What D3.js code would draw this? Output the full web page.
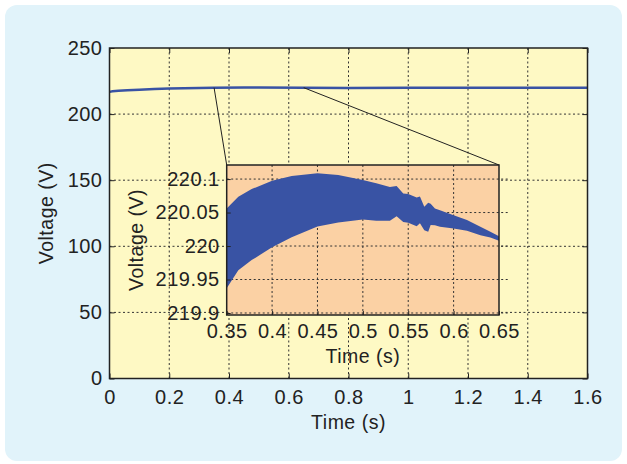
<!DOCTYPE html>
<html lang="en">
<head>
	<meta charset="utf-8">
	<title>Voltage with zoomed inset</title>
	<script src="https://cdn.jsdelivr.net/npm/d3@7"></script>
	<style>
		body { margin: 0; background: #fff; }
		text { font-family: "Liberation Sans", Arial, sans-serif; fill: #222; letter-spacing: 0.5px; }
	</style>
</head>
<body>
	<div id="chart"></div>
	<script>

		// main trace
		const mainTime    = [0, 0.01, 0.03, 0.06, 0.1, 0.15, 0.2, 0.3, 0.35, 0.45, 0.5, 0.65, 0.8, 1.0, 1.2, 1.4, 1.6];
		const mainVoltage = [216.8, 217.2, 217.6, 218.0, 218.5, 218.9, 219.3, 219.8, 219.95, 220.1, 220.05, 220.0, 219.8, 220.0, 220.0, 220.0, 220.0];

		// inset: envelope of the fast ripple between 0.35 s and 0.65 s
		const insetTime  = [0.35, 0.3628, 0.3775, 0.40, 0.4216, 0.45, 0.4729, 0.50, 0.5148, 0.5298, 0.5372, 0.5445, 0.55, 0.5593, 0.5629, 0.5677, 0.572, 0.5747, 0.5794, 0.585, 0.60, 0.6147, 0.6295, 0.6405, 0.65];
		const insetUpper = [220.056, 220.0735, 220.085, 220.0975, 220.1045, 220.1085, 220.106, 220.0985, 220.0936, 220.088, 220.0895, 220.0786, 220.0776, 220.0726, 220.074, 220.0586, 220.0646, 220.063, 220.056, 220.0536, 220.0461, 220.0387, 220.0287, 220.0212, 220.0147];
		const insetLower = [219.937, 219.964, 219.979, 219.998, 220.013, 220.029, 220.035, 220.0397, 220.0376, 220.0376, 220.0446, 220.036, 220.0346, 220.0297, 220.034, 220.0237, 220.0212, 220.0313, 220.0312, 220.0287, 220.0262, 220.0227, 220.0162, 220.0128, 220.0077];

		// tick labels
		const xTicks      = [0, 0.2, 0.4, 0.6, 0.8, 1, 1.2, 1.4, 1.6];
		const yTicks      = [0, 50, 100, 150, 200, 250];
		const insetXTicks = [0.35, 0.4, 0.45, 0.5, 0.55, 0.6, 0.65];
		const insetYTicks = [219.9, 219.95, 220, 220.05, 220.1];

		const W = 627, H = 464;
		const plot  = {left: 109.5, right: 587.5, top: 48, bottom: 378.5};
		const inset = {left: 226.7, right: 499, top: 165, bottom: 315};

		const blue = "#3953a4";
		const fmt = d => String(+d.toFixed(2));

		const svg = d3.select("#chart").append("svg")
			.attr("width", W)
			.attr("height", H);

		// light blue panel
		svg.append("rect")
			.attr("x", 5).attr("y", 5)
			.attr("width", 617).attr("height", 456)
			.attr("rx", 12)
			.attr("fill", "#e1f3fa");

		// scales
		const x = d3.scaleLinear().domain([0, 1.6]).range([plot.left, plot.right]);
		const y = d3.scaleLinear().domain([0, 250]).range([plot.bottom, plot.top]);
		const ix = d3.scaleLinear().domain([0.35, 0.65]).range([inset.left, inset.right]);
		const iy = d3.scaleLinear().domain([219.897, 220.121]).range([inset.bottom, inset.top]);

		// main plot background
		svg.append("rect")
			.attr("x", plot.left).attr("y", plot.top)
			.attr("width", plot.right - plot.left)
			.attr("height", plot.bottom - plot.top)
			.attr("fill", "#fef9c4");

		// main grid
		const grid = svg.append("g")
			.attr("stroke", "#333")
			.attr("stroke-width", 1)
			.attr("stroke-dasharray", "2,2.5");
		grid.selectAll(".gx").data(xTicks.slice(1, -1)).join("line")
			.attr("x1", d => x(d)).attr("x2", d => x(d))
			.attr("y1", plot.top).attr("y2", plot.bottom);
		grid.selectAll(".gy").data(yTicks.slice(1, -1)).join("line")
			.attr("class", "gy")
			.attr("y1", d => y(d)).attr("y2", d => y(d))
			.attr("x1", plot.left).attr("x2", plot.right);

		// main trace
		const mainData = mainTime.map((t, i) => ({t: t, v: mainVoltage[i]}));
		svg.append("path")
			.datum(mainData)
			.attr("fill", "none")
			.attr("stroke", blue)
			.attr("stroke-width", 2.5)
			.attr("d", d3.line().x(d => x(d.t)).y(d => y(d.v)));

		// main axes (ticks pointing inward)
		svg.append("g")
			.attr("transform", "translate(0," + plot.bottom + ")")
			.call(d3.axisBottom(x).tickValues(xTicks).tickFormat(fmt).tickSize(-5).tickPadding(11))
			.call(g => g.select(".domain").remove());
		svg.append("g")
			.attr("transform", "translate(" + plot.left + ",0)")
			.call(d3.axisLeft(y).tickValues(yTicks).tickSize(-5).tickPadding(7))
			.call(g => g.select(".domain").remove());
		svg.append("g")
			.attr("transform", "translate(0," + plot.top + ")")
			.call(d3.axisTop(x).tickValues(xTicks).tickSize(-5).tickFormat(""))
			.call(g => g.select(".domain").remove());
		svg.append("g")
			.attr("transform", "translate(" + plot.right + ",0)")
			.call(d3.axisRight(y).tickValues(yTicks).tickSize(-5).tickFormat(""))
			.call(g => g.select(".domain").remove());
		svg.selectAll(".tick line").attr("stroke", "#222");
		svg.selectAll(".tick text").style("font-size", "20px").attr("fill", "#222");

		svg.append("rect")
			.attr("x", plot.left).attr("y", plot.top)
			.attr("width", plot.right - plot.left)
			.attr("height", plot.bottom - plot.top)
			.attr("fill", "none")
			.attr("stroke", "#222")
			.attr("stroke-width", 1.5);

		// axis titles
		svg.append("text")
			.attr("x", (plot.left + plot.right) / 2).attr("y", 429)
			.attr("text-anchor", "middle")
			.style("font-size", "19.5px")
			.text("Time (s)");
		svg.append("text")
			.attr("transform", "translate(53," + (plot.top + plot.bottom) / 2 + ") rotate(-90)")
			.attr("text-anchor", "middle")
			.style("font-size", "19.5px")
			.text("Voltage (V)");

		// connector lines from the zoomed stretch to the inset
		const conn = svg.append("g").attr("stroke", "#222").attr("stroke-width", 1);
		conn.append("line")
			.attr("x1", x(0.35)).attr("y1", y(220))
			.attr("x2", inset.left).attr("y2", inset.top);
		conn.append("line")
			.attr("x1", x(0.65)).attr("y1", y(220))
			.attr("x2", inset.right).attr("y2", inset.top);

		// ---- inset ----
		const ins = svg.append("g");

		ins.append("rect")
			.attr("x", inset.left).attr("y", inset.top)
			.attr("width", inset.right - inset.left)
			.attr("height", inset.bottom - inset.top)
			.attr("fill", "#fbd1a4");

		svg.append("defs").append("clipPath")
			.attr("id", "inset-clip")
			.append("rect")
			.attr("x", inset.left).attr("y", inset.top)
			.attr("width", inset.right - inset.left)
			.attr("height", inset.bottom - inset.top);

		const igrid = ins.append("g")
			.attr("stroke", "#333")
			.attr("stroke-width", 1)
			.attr("stroke-dasharray", "2,2.5");
		igrid.selectAll(".gx").data(insetXTicks.slice(1, -1)).join("line")
			.attr("x1", d => ix(d)).attr("x2", d => ix(d))
			.attr("y1", inset.top).attr("y2", inset.bottom);
		igrid.selectAll(".gy").data(insetYTicks).join("line")
			.attr("class", "gy")
			.attr("y1", d => iy(d)).attr("y2", d => iy(d))
			.attr("x1", inset.left).attr("x2", inset.right + 10);

		const insetData = insetTime.map((t, i) => ({t: t, hi: insetUpper[i], lo: insetLower[i]}));
		ins.append("path")
			.datum(insetData)
			.attr("clip-path", "url(#inset-clip)")
			.attr("fill", blue)
			.attr("d", d3.area().x(d => ix(d.t)).y0(d => iy(d.lo)).y1(d => iy(d.hi)));

		ins.append("g")
			.attr("transform", "translate(0," + inset.bottom + ")")
			.call(d3.axisBottom(ix).tickValues(insetXTicks).tickFormat(fmt).tickSize(-4).tickPadding(9))
			.call(g => g.select(".domain").remove());
		ins.append("g")
			.attr("transform", "translate(" + inset.left + ",0)")
			.call(d3.axisLeft(iy).tickValues(insetYTicks).tickFormat(fmt).tickSize(-4).tickPadding(7))
			.call(g => g.select(".domain").remove());
		ins.selectAll(".tick line").attr("stroke", "#222");
		ins.selectAll(".tick text").style("font-size", "20px").attr("fill", "#222");

		ins.append("rect")
			.attr("x", inset.left).attr("y", inset.top)
			.attr("width", inset.right - inset.left)
			.attr("height", inset.bottom - inset.top)
			.attr("fill", "none")
			.attr("stroke", "#222")
			.attr("stroke-width", 1.5);

		ins.append("text")
			.attr("x", (inset.left + inset.right) / 2).attr("y", 363)
			.attr("text-anchor", "middle")
			.style("font-size", "19.5px")
			.text("Time (s)");
		ins.append("text")
			.attr("transform", "translate(143," + (inset.top + inset.bottom) / 2 + ") rotate(-90)")
			.attr("text-anchor", "middle")
			.style("font-size", "19.5px")
			.text("Voltage (V)");
	</script>
</body>
</html>
